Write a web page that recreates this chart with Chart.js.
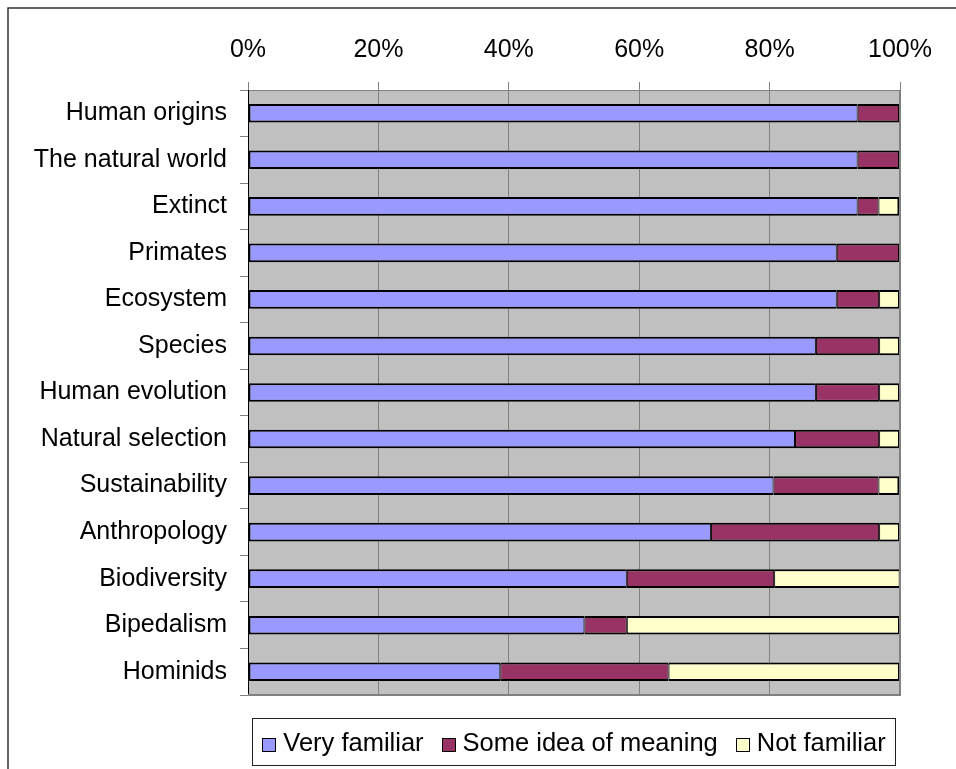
<!DOCTYPE html>
<html>
<head>
<meta charset="utf-8">
<script src="https://cdn.jsdelivr.net/npm/chart.js@4"></script>
<style>
  body { margin: 0; background: #fff; }
  #wrap { position: relative; width: 956px; height: 769px; overflow: hidden; }
  #legend {
    position: absolute; left: 252px; top: 718px; width: 642px; height: 46px;
    border: 1px solid #222; box-sizing: content-box;
    display: flex; align-items: center; justify-content: center;
    font-family: "Liberation Sans", Arial, sans-serif; font-size: 25.5px; color: #000;
  }
  .item { display: flex; align-items: center; margin: 0 9px; white-space: nowrap; }
  .sw { width: 12px; height: 12px; border: 1px solid #000; margin-right: 7px; margin-top: 6px; }
</style>
</head>
<body>
<div id="wrap">
  <canvas id="chart"></canvas>
  <div id="legend"></div>
</div>
<script>
document.addEventListener("DOMContentLoaded", function () {
    const categories = ["Human origins", "The natural world", "Extinct", "Primates", "Ecosystem",
        "Species", "Human evolution", "Natural selection", "Sustainability", "Anthropology",
        "Biodiversity", "Bipedalism", "Hominids"];
    const veryFamiliar = [93.5, 93.5, 93.5, 90.3, 90.3, 87.1, 87.1, 83.9, 80.6, 71.0, 58.1, 51.6, 38.7];
    const someIdea = [6.5, 6.5, 3.2, 9.7, 6.5, 9.7, 9.7, 12.9, 16.1, 25.8, 22.6, 6.5, 25.8];
    const notFamiliar = [0, 0, 3.2, 0, 3.2, 3.2, 3.2, 3.2, 3.2, 3.2, 19.4, 41.9, 35.5];
    const tickValues = [0, 20, 40, 60, 80, 100];

    const seriesNames = ["Very familiar", "Some idea of meaning", "Not familiar"];
    const seriesColors = ["#9999FF", "#993366", "#FFFFCC"];
    const seriesData = [veryFamiliar, someIdea, notFamiliar];

    const font = { family: "'Liberation Sans', Arial, sans-serif", size: 25 };

    // borders: 2px outside, joins shared so they stay ~2px
    function segBorder(c) {
        const i = c.dataIndex;
        const d = c.datasetIndex;
        let first = true, last = true;
        for (let k = 0; k < d; k++) if (seriesData[k][i] > 0) first = false;
        for (let k = d + 1; k < seriesData.length; k++) if (seriesData[k][i] > 0) last = false;
        return { top: 2, bottom: 2, left: first ? 2 : 1, right: last ? 2 : 1 };
    }

    const plotBg = {
        id: "plotBg",
        beforeDraw(chart) {
            const a = chart.chartArea, c = chart.ctx;
            c.save();
            c.fillStyle = "#C0C0C0";
            c.fillRect(a.left, a.top, a.right - a.left, a.bottom - a.top);
            c.restore();
        },
        afterDraw(chart) {
            const a = chart.chartArea, c = chart.ctx;
            c.save();
            c.strokeStyle = "#808080";
            c.lineWidth = 2;
            c.beginPath();
            c.moveTo(a.right, a.top);
            c.lineTo(a.right, a.bottom);
            c.lineTo(a.left, a.bottom);
            c.stroke();
            // outer frame
            c.strokeStyle = "#333";
            c.lineWidth = 1.5;
            c.beginPath();
            c.moveTo(8, 769);
            c.lineTo(8, 8);
            c.lineTo(956, 8);
            c.stroke();
            c.restore();
        }
    };

    new Chart(document.getElementById("chart"), {
        type: "bar",
        data: {
            labels: categories,
            datasets: seriesNames.map((name, k) => ({
                label: name,
                data: seriesData[k],
                backgroundColor: seriesColors[k],
                borderColor: "#000",
                borderWidth: segBorder,
                borderSkipped: false,
                categoryPercentage: 1,
                barPercentage: 0.4
            }))
        },
        options: {
            indexAxis: "y",
            responsive: true,
            maintainAspectRatio: false,
            animation: false,
            layout: { padding: { left: 0, top: 0, right: 56, bottom: 74 } },
            plugins: { legend: { display: false }, tooltip: { enabled: false } },
            scales: {
                x: {
                    position: "top",
                    stacked: true,
                    min: 0,
                    max: 100,
                    afterBuildTicks: s => { s.ticks = tickValues.map(v => ({ value: v })); },
                    afterFit: s => { s.height = 90; },
                    ticks: { font: font, color: "#000", padding: 17, callback: v => v + "%", maxRotation: 0 },
                    grid: { color: "#808080", tickLength: 8, lineWidth: 1 },
                    border: { color: "#808080" }
                },
                y: {
                    stacked: true,
                    afterFit: s => { s.width = 248; },
                    ticks: { font: font, color: "#000", padding: 13 },
                    grid: { drawOnChartArea: false, color: "#808080", tickLength: 8 },
                    border: { color: "#000", width: 1 }
                }
            }
        },
        plugins: [plotBg]
    });

    const legend = document.getElementById("legend");
    seriesNames.forEach((name, k) => {
        const item = document.createElement("div");
        item.className = "item";
        const sw = document.createElement("span");
        sw.className = "sw";
        sw.style.background = seriesColors[k];
        item.appendChild(sw);
        item.appendChild(document.createTextNode(name));
        legend.appendChild(item);
    });
});
</script>
</body>
</html>
